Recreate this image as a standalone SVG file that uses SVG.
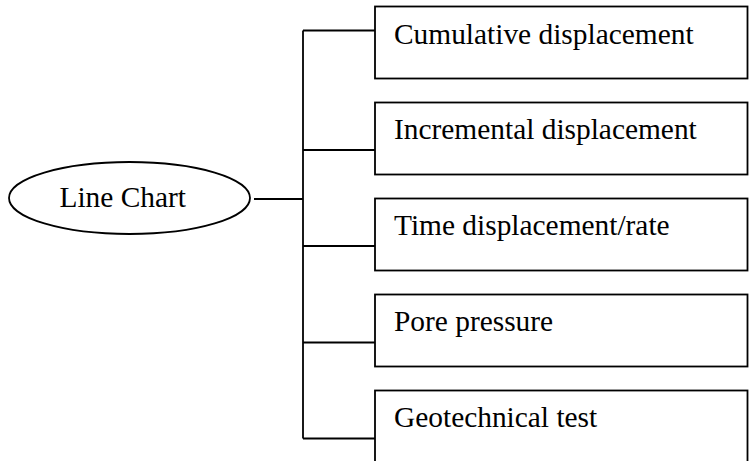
<svg xmlns="http://www.w3.org/2000/svg" width="749" height="461" viewBox="0 0 749 461">
<style>
.n{fill:#fff;stroke:#000;stroke-width:1.8}
.t{font-family:"Liberation Serif","Times New Roman",serif;font-size:29.4px;fill:#000}
.c{fill:none;stroke:#000;stroke-width:1.8}
</style>
<rect width="749" height="461" fill="#fff"/>
<g id="connectors">
<line class="c" x1="254" y1="199" x2="303" y2="199"/>
<line class="c" x1="303" y1="30.5" x2="303" y2="438.5"/>
<line class="c" x1="303" y1="30.5" x2="375" y2="30.5"/>
<line class="c" x1="303" y1="150" x2="375" y2="150"/>
<line class="c" x1="303" y1="246" x2="375" y2="246"/>
<line class="c" x1="303" y1="342.5" x2="375" y2="342.5"/>
<line class="c" x1="303" y1="438.5" x2="375" y2="438.5"/>
</g>
<g id="line-chart">
<ellipse class="n" cx="129.5" cy="198" rx="120.5" ry="36"/>
<text class="t" x="59.5" y="207">Line Chart</text>
</g>
<g id="cumulative">
<rect class="n" x="375" y="6.5" width="372.5" height="72"/>
<text class="t" x="394" y="43.5">Cumulative displacement</text>
</g>
<g id="incremental">
<rect class="n" x="375" y="102.5" width="372.5" height="72"/>
<text class="t" x="394" y="138.5">Incremental displacement</text>
</g>
<g id="time">
<rect class="n" x="375" y="198.5" width="372.5" height="72"/>
<text class="t" x="394" y="234.5">Time displacement/rate</text>
</g>
<g id="pore">
<rect class="n" x="375" y="294.5" width="372.5" height="72"/>
<text class="t" x="394" y="330.5">Pore pressure</text>
</g>
<g id="geotechnical">
<rect class="n" x="375" y="390.5" width="372.5" height="80"/>
<text class="t" x="394" y="426.5">Geotechnical test</text>
</g>
</svg>
